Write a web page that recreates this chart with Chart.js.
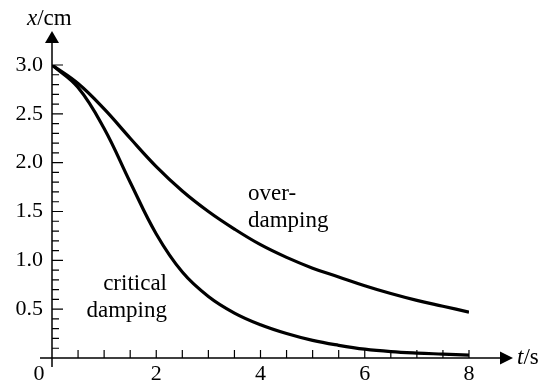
<!DOCTYPE html>
<html>
<head>
<meta charset="utf-8">
<script src="https://cdn.jsdelivr.net/npm/chart.js@4/dist/chart.umd.min.js"></script>
<style>
  html, body { margin: 0; padding: 0; background: #fff; }
  #wrap { width: 554px; height: 381px; position: relative; }
</style>
</head>
<body>
<div id="wrap"><canvas id="c"></canvas></div>
<script>
// time in s
const times = [0, 0.5, 1, 1.5, 2, 2.5, 3, 3.5, 4, 4.5, 5, 5.5, 6, 6.5, 7, 7.5, 8];
// displacement x in cm
const criticalDamping = [3.0, 2.77, 2.35, 1.80, 1.27, 0.88, 0.63, 0.46, 0.34, 0.25, 0.18, 0.13, 0.09, 0.065, 0.05, 0.04, 0.03];
const overDamping = [3.0, 2.81, 2.55, 2.25, 1.96, 1.71, 1.50, 1.32, 1.16, 1.03, 0.92, 0.83, 0.74, 0.66, 0.59, 0.53, 0.47];

const xLabelValues = [2, 4, 6, 8];
const yLabelValues = [0.5, 1.0, 1.5, 2.0, 2.5, 3.0];

const SERIF = '"Liberation Serif", "Times New Roman", serif';

function pts(ys) { return times.map((t, i) => ({ x: t, y: ys[i] })); }

const axesPlugin = {
    id: 'axes',
    afterDraw(chart) {
        const ctx = chart.ctx;
        const xs = chart.scales.x, ys = chart.scales.y;
        const x0 = xs.getPixelForValue(0), y0 = ys.getPixelForValue(0);
        ctx.save();
        ctx.strokeStyle = '#000';
        ctx.fillStyle = '#000';
        ctx.lineWidth = 1.5;

        // axis lines
        ctx.beginPath();
        ctx.moveTo(x0, y0 + 9);
        ctx.lineTo(x0, 40);
        ctx.moveTo(x0 - 12, y0);
        ctx.lineTo(502, y0);
        ctx.stroke();

        // arrow heads
        ctx.beginPath();
        ctx.moveTo(x0, 31);
        ctx.lineTo(x0 - 7, 43);
        ctx.lineTo(x0 + 7, 43);
        ctx.closePath();
        ctx.fill();
        ctx.beginPath();
        ctx.moveTo(513, y0);
        ctx.lineTo(500, y0 - 6.5);
        ctx.lineTo(500, y0 + 6.5);
        ctx.closePath();
        ctx.fill();

        // inward tick marks
        ctx.lineWidth = 1.2;
        ctx.beginPath();
        xs.ticks.forEach(t => {
            if (t.value === 0) return;
            const px = xs.getPixelForValue(t.value);
            ctx.moveTo(px, y0);
            ctx.lineTo(px, y0 - 8);
        });
        ys.ticks.forEach(t => {
            if (t.value === 0) return;
            const py = ys.getPixelForValue(t.value);
            const major = Math.round(t.value * 10) % 5 === 0;
            ctx.moveTo(x0, py);
            ctx.lineTo(x0 + (major ? 11 : 7), py);
        });
        ctx.stroke();

        // axis titles
        ctx.textBaseline = 'alphabetic';
        ctx.textAlign = 'left';
        ctx.font = 'italic 23px ' + SERIF;
        ctx.fillText('x', 27, 25);
        let w = ctx.measureText('x').width;
        ctx.font = '23px ' + SERIF;
        ctx.fillText('/cm', 27 + w, 25);

        ctx.font = 'italic 23px ' + SERIF;
        ctx.fillText('t', 517, 364);
        w = ctx.measureText('t').width;
        ctx.font = '23px ' + SERIF;
        ctx.fillText('/s', 517 + w, 364);

        // origin label
        ctx.font = '22px ' + SERIF;
        ctx.textAlign = 'center';
        ctx.fillText('0', 39, 380);

        // curve labels
        ctx.font = '23px ' + SERIF;
        ctx.textAlign = 'left';
        ctx.fillText('over-', 248, 200);
        ctx.fillText('damping', 248, 227);
        ctx.textAlign = 'right';
        ctx.fillText('critical', 167, 290);
        ctx.fillText('damping', 167, 317);
        ctx.restore();
    }
};

new Chart(document.getElementById('c'), {
    type: 'line',
    data: {
        datasets: [
            {
                label: 'critical damping',
                data: pts(criticalDamping),
                borderColor: '#000',
                borderWidth: 3.2,
                pointRadius: 0,
                tension: 0.4,
                fill: false
            },
            {
                label: 'over-damping',
                data: pts(overDamping),
                borderColor: '#000',
                borderWidth: 3.2,
                pointRadius: 0,
                tension: 0.4,
                fill: false
            }
        ]
    },
    options: {
        responsive: true,
        maintainAspectRatio: false,
        animation: false,
        layout: { padding: { left: 0, right: 85, top: 65, bottom: 0 } },
        plugins: {
            legend: { display: false },
            tooltip: { enabled: false }
        },
        scales: {
            x: {
                type: 'linear',
                min: 0,
                max: 8,
                border: { display: false },
                grid: { display: false, drawTicks: false },
                ticks: {
                    stepSize: 0.5,
                    autoSkip: false,
                    maxRotation: 0,
                    padding: 3,
                    color: '#000',
                    font: { family: SERIF, size: 22 },
                    callback: v => xLabelValues.includes(v) ? String(v) : ''
                },
                afterFit: s => { s.height = 23; }
            },
            y: {
                min: 0,
                max: 3,
                border: { display: false },
                grid: { display: false, drawTicks: false },
                ticks: {
                    stepSize: 0.1,
                    autoSkip: false,
                    padding: 9,
                    color: '#000',
                    font: { family: SERIF, size: 22 },
                    callback: v => yLabelValues.some(l => Math.abs(l - v) < 1e-6) ? v.toFixed(1) : ''
                },
                afterFit: s => { s.width = 52; }
            }
        }
    },
    plugins: [axesPlugin]
});
</script>
</body>
</html>
